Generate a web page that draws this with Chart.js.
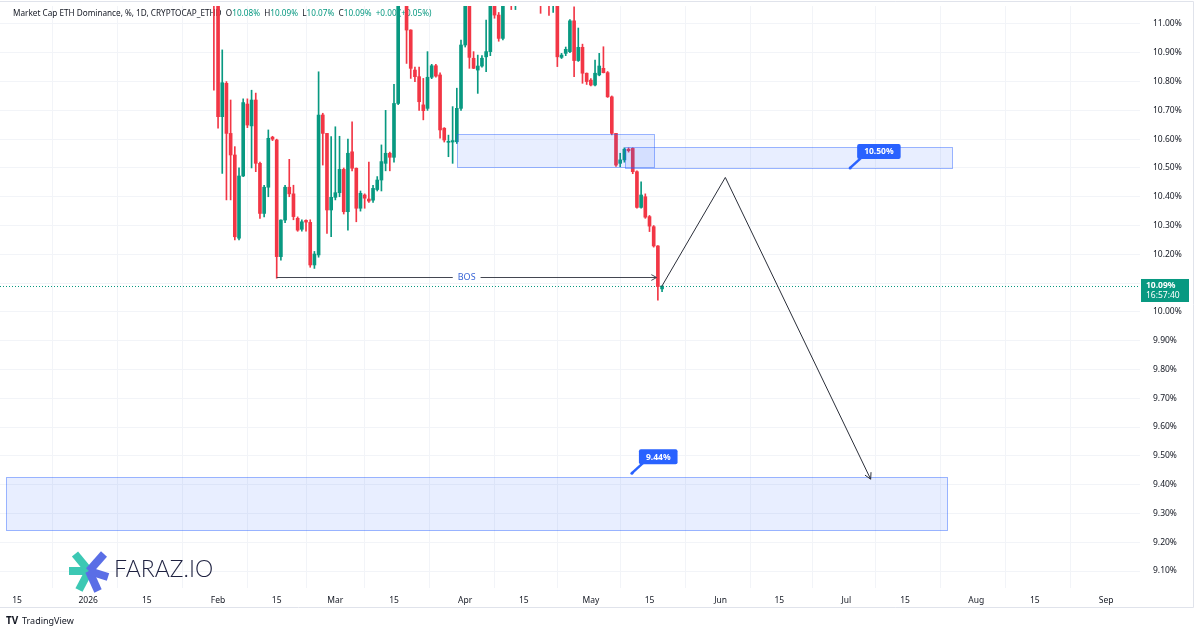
<!DOCTYPE html>
<html lang="en">
<head>
<meta charset="UTF-8">
<title>Market Cap ETH Dominance</title>
<script src="https://cdn.jsdelivr.net/npm/chart.js"></script>
<style>
  html, body { margin: 0; padding: 0; background: #fff; }
  #wrap { position: relative; width: 1200px; height: 630px; }
  canvas { display: block; }
</style>
</head>
<body>
<div id="wrap"><canvas id="ethd" width="1200" height="630"></canvas></div>
<script>
// day index = days since Dec 15 2025, first candle is Jan 31 2026
const firstDay = 47;
const opens = [11.30, 11.12, 10.678, 10.794, 10.62, 10.545, 10.256, 10.472, 10.722, 10.646,
  10.736, 10.516, 10.342, 10.433, 10.607, 10.597, 10.192, 10.319, 10.433, 10.41,
  10.325, 10.287, 10.318, 10.311, 10.163, 10.198, 10.684, 10.62, 10.354, 10.398,
  10.414, 10.495, 10.348, 10.556, 10.499, 10.36, 10.406, 10.392, 10.388, 10.425,
  10.458, 10.516, 10.551, 10.537, 10.724, 11.10, 11.15, 10.979, 10.84, 10.817,
  10.719, 10.707, 10.815, 10.855, 10.823, 10.638, 10.589, 10.59, 10.591, 10.707,
  10.927, 11.10, 10.881, 10.84, 10.854, 10.886, 10.904, 11.10, 11.031, 10.95,
  11.10, 11.20, 11.15, 11.18, 11.26, 11.30, 11.22, 11.20, 11.14, 11.10,
  11.12, 11.09, 11.10, 10.884, 10.898, 10.904, 11.011, 10.873, 10.919, 10.829,
  10.805, 10.788, 10.823, 10.846, 10.831, 10.747, 10.62, 10.516, 10.528, 10.565,
  10.568, 10.487, 10.363, 10.40, 10.331, 10.296, 10.229, 10.08];
const highs = [11.34, 11.14, 10.91, 10.80, 10.736, 10.574, 10.50, 10.74, 10.74, 10.77,
  10.76, 10.52, 10.44, 10.632, 10.61, 10.60, 10.32, 10.44, 10.53, 10.44,
  10.33, 10.32, 10.32, 10.32, 10.21, 10.834, 10.69, 10.62, 10.609, 10.643,
  10.61, 10.50, 10.60, 10.66, 10.50, 10.42, 10.41, 10.52, 10.44, 10.47,
  10.58, 10.70, 10.555, 10.79, 11.15, 11.25, 11.18, 10.98, 10.85, 10.85,
  10.811, 10.904, 10.86, 10.86, 10.83, 10.64, 10.614, 10.713, 10.777, 10.944,
  11.15, 11.12, 10.904, 10.892, 10.89, 11.014, 11.12, 11.12, 11.04, 11.15,
  11.25, 11.28, 11.22, 11.30, 11.35, 11.33, 11.28, 11.25, 11.18, 11.16,
  11.15, 11.14, 11.12, 10.898, 10.92, 11.015, 11.06, 10.986, 10.93, 10.83,
  10.81, 10.875, 10.898, 10.921, 10.835, 10.75, 10.62, 10.551, 10.57, 10.57,
  10.57, 10.49, 10.452, 10.41, 10.335, 10.30, 10.23, 10.09];
const lows = [10.77, 10.638, 10.481, 10.389, 10.389, 10.25, 10.25, 10.47, 10.64, 10.50,
  10.487, 10.325, 10.33, 10.40, 10.595, 10.117, 10.18, 10.31, 10.40, 10.32,
  10.28, 10.28, 10.28, 10.155, 10.151, 10.19, 10.51, 10.273, 10.261, 10.389,
  10.40, 10.34, 10.284, 10.49, 10.313, 10.35, 10.36, 10.38, 10.38, 10.42,
  10.42, 10.49, 10.49, 10.52, 10.72, 11.08, 10.863, 10.811, 10.80, 10.70,
  10.667, 10.70, 10.81, 10.815, 10.603, 10.59, 10.539, 10.516, 10.585, 10.70,
  10.92, 10.846, 10.845, 10.759, 10.85, 10.834, 10.89, 11.02, 10.94, 10.945,
  11.08, 11.05, 11.05, 11.12, 11.20, 11.18, 11.15, 11.10, 11.037, 11.07,
  11.03, 11.04, 10.852, 10.88, 10.89, 10.90, 10.817, 10.87, 10.794, 10.79,
  10.785, 10.785, 10.82, 10.83, 10.745, 10.615, 10.505, 10.504, 10.52, 10.555,
  10.48, 10.36, 10.36, 10.325, 10.279, 10.225, 10.041, 10.07];
const closes = [11.12, 10.678, 10.796, 10.62, 10.545, 10.261, 10.472, 10.727, 10.649, 10.736,
  10.516, 10.342, 10.433, 10.603, 10.60, 10.192, 10.319, 10.433, 10.41, 10.331,
  10.284, 10.313, 10.312, 10.163, 10.201, 10.684, 10.62, 10.354, 10.398, 10.414,
  10.495, 10.348, 10.551, 10.499, 10.36, 10.412, 10.395, 10.385, 10.429, 10.458,
  10.522, 10.551, 10.537, 10.724, 11.10, 11.15, 10.979, 10.846, 10.817, 10.73,
  10.699, 10.815, 10.855, 10.819, 10.632, 10.597, 10.592, 10.595, 10.707, 10.927,
  11.10, 10.884, 10.846, 10.854, 10.881, 10.904, 11.09, 11.031, 10.95, 11.10,
  11.20, 11.15, 11.18, 11.26, 11.30, 11.22, 11.20, 11.14, 11.10, 11.12,
  11.09, 11.10, 10.886, 10.892, 10.912, 11.011, 10.873, 10.919, 10.829, 10.80,
  10.788, 10.829, 10.854, 10.831, 10.747, 10.62, 10.51, 10.528, 10.565, 10.56,
  10.487, 10.363, 10.406, 10.329, 10.298, 10.229, 10.088, 10.09];

const tickDays = [0, 17, 31, 48, 62, 76, 90, 107, 121, 137, 151, 168, 182, 198, 212, 229, 243, 260];
const tickLabels = ['15', '2026', '15', 'Feb', '15', 'Mar', '15', 'Apr', '15', 'May', '15', 'Jun', '15', 'Jul', '15', 'Aug', '15', 'Sep'];
const priceTicks = [9.1, 9.2, 9.3, 9.4, 9.5, 9.6, 9.7, 9.8, 9.9, 10.0, 10.1, 10.2, 10.3, 10.4, 10.5, 10.6, 10.7, 10.8, 10.9, 11.0];

// drawings: [dayStart, dayEnd, priceTop, priceBottom]
const supplyZone = [105.1, 152.1, 10.618, 10.504];
const retestZone = [145.2, 223.2, 10.572, 10.499];
const targetZone = [-2.6, 222.0, 9.428, 9.242];
const bosDays = [62, 152.7];
const bosPrice = 10.12;
const pathDays = [153.9, 169.1, 203.8];
const pathPrices = [10.088, 10.467, 9.419];
const calloutDays = [198.9, 146.8];
const calloutPrices = [10.50, 9.44];
const calloutTexts = ['10.50%', '9.44%'];
const lastPrice = 10.09;

const UP = '#089981';
const DOWN = '#f23645';
const BLUE = '#2962ff';
const DARK = '#131722';
const FONT = '"Noto Sans", "DejaVu Sans", sans-serif';

const days = opens.map((o, i) => firstDay + i);
const colors = closes.map((c, i) => c >= opens[i] ? UP : DOWN);

function arrowHead(ctx, x1, y1, x2, y2, size) {
  const a = Math.atan2(y2 - y1, x2 - x1);
  ctx.beginPath();
  ctx.moveTo(x2 - size * Math.cos(a - 0.5), y2 - size * Math.sin(a - 0.5));
  ctx.lineTo(x2, y2);
  ctx.lineTo(x2 - size * Math.cos(a + 0.5), y2 - size * Math.sin(a + 0.5));
  ctx.stroke();
}

const overlay = {
  id: 'overlay',
  beforeDatasetsDraw(chart) {
    const { ctx, chartArea: ca, scales: { y } } = chart;
    ctx.save();
    // current price dotted line
    const py = Math.round(y.getPixelForValue(lastPrice)) + 0.5;
    ctx.strokeStyle = UP;
    ctx.setLineDash([1, 2]);
    ctx.lineWidth = 1;
    ctx.beginPath(); ctx.moveTo(ca.left, py); ctx.lineTo(ca.right, py); ctx.stroke();
    ctx.setLineDash([]);
    // legend line
    ctx.font = '8.2px ' + FONT;
    ctx.textBaseline = 'middle';
    const parts = [
      ['Market Cap ETH Dominance, %, 1D, CRYPTOCAP_ETHD  ', DARK],
      ['O', DARK], ['10.08%  ', UP], ['H', DARK], ['10.09%  ', UP],
      ['L', DARK], ['10.07%  ', UP], ['C', DARK], ['10.09%  ', UP], ['+0.00 (+0.05%)', UP]
    ];
    let tx = 13;
    parts.forEach(([t, c]) => { ctx.fillStyle = c; ctx.fillText(t, tx, 14); tx += ctx.measureText(t).width; });
    ctx.restore();
  },
  afterDatasetsDraw(chart) {
    const { ctx, chartArea: ca, scales: { x, y } } = chart;
    ctx.save();
    ctx.beginPath(); ctx.rect(ca.left, ca.top, ca.right - ca.left, ca.bottom - ca.top); ctx.clip();
    // zones
    [supplyZone, retestZone, targetZone].forEach(z => {
      const x1 = Math.round(x.getPixelForValue(z[0])) + 0.5;
      const x2 = Math.round(x.getPixelForValue(z[1])) + 0.5;
      const y1 = Math.round(y.getPixelForValue(z[2])) + 0.5;
      const y2 = Math.round(y.getPixelForValue(z[3])) + 0.5;
      ctx.fillStyle = 'rgba(41, 98, 255, 0.11)';
      ctx.fillRect(x1, y1, x2 - x1, y2 - y1);
      ctx.strokeStyle = 'rgba(41, 98, 255, 0.45)';
      ctx.lineWidth = 1;
      ctx.strokeRect(x1, y1, x2 - x1, y2 - y1);
    });
    // BOS line
    const by = Math.round(y.getPixelForValue(bosPrice)) + 0.5;
    const bx1 = x.getPixelForValue(bosDays[0]);
    const bx2 = x.getPixelForValue(bosDays[1]);
    const tcx = (bx1 + bx2) / 2;
    ctx.font = '9px ' + FONT;
    const tw = ctx.measureText('BOS').width;
    ctx.strokeStyle = '#434651';
    ctx.lineWidth = 1;
    ctx.beginPath();
    ctx.moveTo(bx1, by); ctx.lineTo(tcx - tw / 2 - 5, by);
    ctx.moveTo(tcx + tw / 2 + 5, by); ctx.lineTo(bx2, by);
    ctx.stroke();
    arrowHead(ctx, bx1, by, bx2, by, 6);
    ctx.fillStyle = '#3a66d6';
    ctx.textAlign = 'center';
    ctx.textBaseline = 'middle';
    ctx.fillText('BOS', tcx, by);
    // projection path
    const pts = pathDays.map((d, i) => [x.getPixelForValue(d), y.getPixelForValue(pathPrices[i])]);
    ctx.strokeStyle = '#2a2e39';
    ctx.beginPath();
    pts.forEach((p, i) => i ? ctx.lineTo(p[0], p[1]) : ctx.moveTo(p[0], p[1]));
    ctx.stroke();
    const n = pts.length;
    arrowHead(ctx, pts[n - 2][0], pts[n - 2][1], pts[n - 1][0], pts[n - 1][1], 7);
    // callouts
    ctx.font = 'bold 8.5px ' + FONT;
    calloutDays.forEach((d, i) => {
      const ax = x.getPixelForValue(d);
      const ay = y.getPixelForValue(calloutPrices[i]);
      const w = ctx.measureText(calloutTexts[i]).width + 14;
      const bx = ax + 7, bY = ay - 24, h = 15;
      ctx.fillStyle = BLUE;
      ctx.strokeStyle = BLUE;
      ctx.lineWidth = 2.5;
      ctx.beginPath(); ctx.moveTo(ax, ay); ctx.lineTo(bx + 4, bY + h - 1); ctx.stroke();
      ctx.beginPath(); ctx.arc(ax, ay, 1.5, 0, Math.PI * 2); ctx.fill();
      ctx.beginPath(); ctx.roundRect(bx, bY, w, h, 2); ctx.fill();
      ctx.fillStyle = '#ffffff';
      ctx.fillText(calloutTexts[i], bx + w / 2, bY + h / 2 + 0.5);
    });
    ctx.restore();
  },
  afterDraw(chart) {
    const { ctx, chartArea: ca, scales: { y } } = chart;
    ctx.save();
    // last price tag on the price scale
    const py = y.getPixelForValue(lastPrice);
    ctx.fillStyle = UP;
    ctx.fillRect(ca.right + 1, py - 7, 48, 23);
    ctx.fillStyle = '#ffffff';
    ctx.font = 'bold 8.5px ' + FONT;
    ctx.textBaseline = 'middle';
    ctx.fillText('10.09%', ca.right + 6, py);
    ctx.font = '8.5px ' + FONT;
    ctx.fillText('16:57:40', ca.right + 6, py + 10);
    // widget frame
    ctx.strokeStyle = '#e0e3eb';
    ctx.lineWidth = 1;
    ctx.beginPath();
    ctx.moveTo(0, 1.5); ctx.lineTo(1193.5, 1.5); ctx.lineTo(1193.5, 607.5); ctx.lineTo(0, 607.5);
    ctx.stroke();
    // footer
    ctx.fillStyle = DARK;
    ctx.font = 'bold 10px ' + FONT;
    ctx.fillText('TV', 6, 621);
    ctx.font = '9px ' + FONT;
    ctx.fillText('TradingView', 22, 621);
    // watermark
    const cx = 89, cy = 571;
    ctx.lineCap = 'butt';
    ctx.lineWidth = 8;
    [[-20, 0, '#3cc8b4'], [-14, -17, '#3cc8b4'], [-10, 19, '#3cc8b4'],
     [15, -17, '#5a6ee6'], [9, 20, '#5a6ee6'], [19, 6, '#5a6ee6']].forEach(([dx, dy, c]) => {
      ctx.strokeStyle = c;
      ctx.beginPath(); ctx.moveTo(cx, cy); ctx.lineTo(cx + dx, cy + dy); ctx.stroke();
    });
    ctx.fillStyle = '#1e2140';
    ctx.font = '300 23px Lato, ' + FONT;
    ctx.fillText('FARAZ.IO', 114, 570);
    ctx.restore();
  }
};

new Chart(document.getElementById('ethd'), {
  type: 'bar',
  data: {
    datasets: [
      {
        label: 'wick',
        data: days.map((d, i) => ({ x: d, y: [lows[i], highs[i]] })),
        backgroundColor: colors,
        barThickness: 1,
        grouped: false,
        order: 2
      },
      {
        label: 'body',
        data: days.map((d, i) => ({ x: d, y: [opens[i], closes[i]] })),
        backgroundColor: colors,
        barThickness: 3,
        minBarLength: 1,
        grouped: false,
        order: 1
      }
    ]
  },
  options: {
    responsive: false,
    animation: false,
    events: [],
    layout: { padding: { top: 6, right: 7, bottom: 22, left: 0 } },
    plugins: { legend: { display: false }, tooltip: { enabled: false } },
    scales: {
      x: {
        type: 'linear',
        min: -4.06,
        max: 268.1,
        offset: false,
        border: { display: false },
        grid: { color: '#f2f4f8', drawTicks: false },
        ticks: {
          padding: 7,
          color: DARK,
          font: { family: FONT, size: 8.5 },
          maxRotation: 0,
          autoSkip: false,
          callback: v => tickLabels[tickDays.indexOf(v)]
        },
        afterBuildTicks: s => { s.ticks = tickDays.map(v => ({ value: v })); },
        afterFit: s => { s.height = 20; s.paddingLeft = 0; s.paddingRight = 0; }
      },
      y: {
        position: 'right',
        min: 9.041,
        max: 11.0625,
        border: { display: false },
        grid: { color: '#f2f4f8', drawTicks: false },
        ticks: {
          padding: 13,
          color: DARK,
          font: { family: FONT, size: 8.5 },
          callback: v => v.toFixed(2) + '%'
        },
        afterBuildTicks: s => { s.ticks = priceTicks.map(v => ({ value: v })); },
        afterFit: s => { s.width = 53; s.paddingTop = 0; s.paddingBottom = 0; }
      }
    }
  },
  plugins: [overlay]
});
</script>
</body>
</html>
